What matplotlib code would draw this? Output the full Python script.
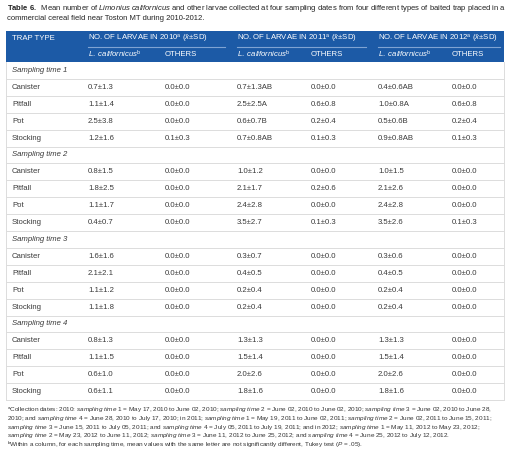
#!/usr/bin/env python3

import matplotlib
matplotlib.use("Agg")
import matplotlib.pyplot as plt
from matplotlib.patches import Rectangle

# ---- data ----
trap_types = ["Canister", "Pitfall", "Pot", "Stocking"]
sampling_times = ["Sampling time 1", "Sampling time 2", "Sampling time 3", "Sampling time 4"]
years = ["2010", "2011", "2012"]

lcal_2010_mean = [[0.7, 1.1, 2.5, 1.2], [0.8, 1.8, 1.1, 0.4], [1.6, 2.1, 1.1, 1.1], [0.8, 1.1, 0.6, 0.6]]
lcal_2010_sd = [[1.3, 1.4, 3.8, 1.6], [1.5, 2.5, 1.7, 0.7], [1.6, 2.1, 1.2, 1.8], [1.3, 1.5, 1.0, 1.1]]
lcal_2010_letters = [["", "", "", ""]] * 4
oth_2010_mean = [[0.0, 0.0, 0.0, 0.1], [0.0, 0.0, 0.0, 0.0], [0.0, 0.0, 0.0, 0.0], [0.0, 0.0, 0.0, 0.0]]
oth_2010_sd = [[0.0, 0.0, 0.0, 0.3], [0.0, 0.0, 0.0, 0.0], [0.0, 0.0, 0.0, 0.0], [0.0, 0.0, 0.0, 0.0]]

lcal_2011_mean = [[0.7, 2.5, 0.6, 0.7], [1.0, 2.1, 2.4, 3.5], [0.3, 0.4, 0.2, 0.2], [1.3, 1.5, 2.0, 1.8]]
lcal_2011_sd = [[1.3, 2.5, 0.7, 0.8], [1.2, 1.7, 2.8, 2.7], [0.7, 0.5, 0.4, 0.4], [1.3, 1.4, 2.6, 1.6]]
lcal_2011_letters = [["AB", "A", "B", "AB"], ["", "", "", ""], ["", "", "", ""], ["", "", "", ""]]
oth_2011_mean = [[0.0, 0.6, 0.2, 0.1], [0.0, 0.2, 0.0, 0.1], [0.0, 0.0, 0.0, 0.0], [0.0, 0.0, 0.0, 0.0]]
oth_2011_sd = [[0.0, 0.8, 0.4, 0.3], [0.0, 0.6, 0.0, 0.3], [0.0, 0.0, 0.0, 0.0], [0.0, 0.0, 0.0, 0.0]]

lcal_2012_mean = [[0.4, 1.0, 0.5, 0.9], [1.0, 2.1, 2.4, 3.5], [0.3, 0.4, 0.2, 0.2], [1.3, 1.5, 2.0, 1.8]]
lcal_2012_sd = [[0.6, 0.8, 0.6, 0.8], [1.5, 2.6, 2.8, 2.6], [0.6, 0.5, 0.4, 0.4], [1.3, 1.4, 2.6, 1.6]]
lcal_2012_letters = [["AB", "A", "B", "AB"], ["", "", "", ""], ["", "", "", ""], ["", "", "", ""]]
oth_2012_mean = [[0.0, 0.6, 0.2, 0.1], [0.0, 0.0, 0.0, 0.1], [0.0, 0.0, 0.0, 0.0], [0.0, 0.0, 0.0, 0.0]]
oth_2012_sd = [[0.0, 0.8, 0.4, 0.3], [0.0, 0.0, 0.0, 0.3], [0.0, 0.0, 0.0, 0.0], [0.0, 0.0, 0.0, 0.0]]

title_lines = [
    r"$\bf{Table\ 6.}$  Mean number of $\it{Limonius\ californicus}$ and other larvae collected at four sampling dates from four different types of baited trap placed in a",
    "commercial cereal field near Toston MT during 2010-2012.",
]
footnotes = [
    r"$^{\rm a}$Collection dates: 2010: $\it{sampling\ time\ 1}$ = May 17, 2010 to June 02, 2010; $\it{sampling\ time\ 2}$ = June 02, 2010 to June 02, 2010; $\it{sampling\ time\ 3}$ = June 02, 2010 to June 28,",
    r"2010; and $\it{sampling\ time\ 4}$ = June 28, 2010 to July 17, 2010; in 2011; $\it{sampling\ time\ 1}$ = May 19, 2011 to June 02, 2011; $\it{sampling\ time\ 2}$ = June 02, 2011 to June 15, 2011;",
    r"$\it{sampling\ time\ 3}$ = June 15, 2011 to July 05, 2011; and $\it{sampling\ time\ 4}$ = July 05, 2011 to July 19, 2011; and in 2012; $\it{sampling\ time\ 1}$ = May 11, 2012 to May 23, 2012;",
    r"$\it{sampling\ time\ 2}$ = May 23, 2012 to June 11, 2012; $\it{sampling\ time\ 3}$ = June 11, 2012 to June 25, 2012; and $\it{sampling\ time\ 4}$ = June 25, 2012 to July 12, 2012.",
    r"$^{\rm b}$Within a column, for each sampling time, mean values with the same letter are not significantly different, Tukey test ($\it{P}$ = .05).",
]


def fmt(m, s, letter=""):
    return f"{m:.1f}\u00b1{s:.1f}{letter}"


def main() -> None:
    plt.rcParams["font.family"] = ["Liberation Sans", "DejaVu Sans"]
    plt.rcParams["mathtext.fontset"] = "custom"
    plt.rcParams["mathtext.rm"] = "Liberation Sans"
    plt.rcParams["mathtext.it"] = "Liberation Sans:italic"
    plt.rcParams["mathtext.bf"] = "Liberation Sans:bold"

    fig = plt.figure(figsize=(5.1, 4.54), dpi=100)
    ax = fig.add_axes([0, 0, 1, 1])
    ax.set_xlim(0, 510)
    ax.set_ylim(454, 0)
    ax.axis("off")

    blue = "#1c5aa6"
    text_col = "#3a3a3a"
    line_col = "#dcdcdc"
    left, right = 6, 504
    col_x = [12, 88, 165, 237, 311, 378, 452]

    # title
    for i, line in enumerate(title_lines):
        ax.text(left + 1, 8 + i * 11, line, fontsize=5.5, color="#222222", va="center", ha="left")

    # header block
    hdr_top, hdr_bot = 31, 62
    ax.add_patch(Rectangle((left, hdr_top), right - left, hdr_bot - hdr_top, color=blue, lw=0))
    hfs = 5.6
    ax.text(col_x[0], 39, "TRAP TYPE", color="white", fontsize=hfs, va="center")
    group_end = [225, 366, 500]
    for g, yr in enumerate(years):
        x0 = col_x[1 + 2 * g]
        ax.text(x0, 39, f"NO. OF LARVAE IN {yr}$^{{\\rm a}}$ ($\\it{{\\bar{{x}}}}$\u00b1SD)",
                color="white", fontsize=hfs, va="center")
        ax.plot([x0, group_end[g]], [46.5, 46.5], color="#7fa3d3", lw=0.8)
        ax.text(x0, 54, r"$\it{L.\ californicus}^{\rm b}$", color="white", fontsize=hfs, va="center")
        ax.text(col_x[2 + 2 * g], 54, "OTHERS", color="white", fontsize=hfs, va="center")

    # body
    columns = [
        (lcal_2010_mean, lcal_2010_sd, lcal_2010_letters),
        (oth_2010_mean, oth_2010_sd, None),
        (lcal_2011_mean, lcal_2011_sd, lcal_2011_letters),
        (oth_2011_mean, oth_2011_sd, None),
        (lcal_2012_mean, lcal_2012_sd, lcal_2012_letters),
        (oth_2012_mean, oth_2012_sd, None),
    ]
    row_h = 16.9
    bfs = 5.6
    row = 0
    for s, st in enumerate(sampling_times):
        yc = hdr_bot + (row + 0.5) * row_h
        ax.text(col_x[0], yc, st, fontsize=bfs, style="italic", color=text_col, va="center")
        row += 1
        for t, trap in enumerate(trap_types):
            yc = hdr_bot + (row + 0.5) * row_h
            ax.text(col_x[0], yc, trap, fontsize=bfs, color=text_col, va="center")
            for c, (mean, sd, letters) in enumerate(columns):
                let = letters[s][t] if letters is not None else ""
                ax.text(col_x[c + 1], yc, fmt(mean[s][t], sd[s][t], let),
                        fontsize=bfs, color=text_col, va="center")
            row += 1
    body_bot = hdr_bot + row * row_h
    for r in range(1, row + 1):
        y = hdr_bot + r * row_h
        ax.plot([left, right], [y, y], color=line_col, lw=0.7)
    ax.plot([left, left], [hdr_bot, body_bot], color=line_col, lw=0.7)
    ax.plot([right, right], [hdr_bot, body_bot], color=line_col, lw=0.7)

    # footnotes
    for i, line in enumerate(footnotes):
        ax.text(left + 1, 410 + i * 8.6, line, fontsize=4.55, color="#333333",
                va="baseline" if False else "center", ha="left")

    plt.savefig("out.png", dpi=100)

    return


if __name__ == "__main__":
    main()
